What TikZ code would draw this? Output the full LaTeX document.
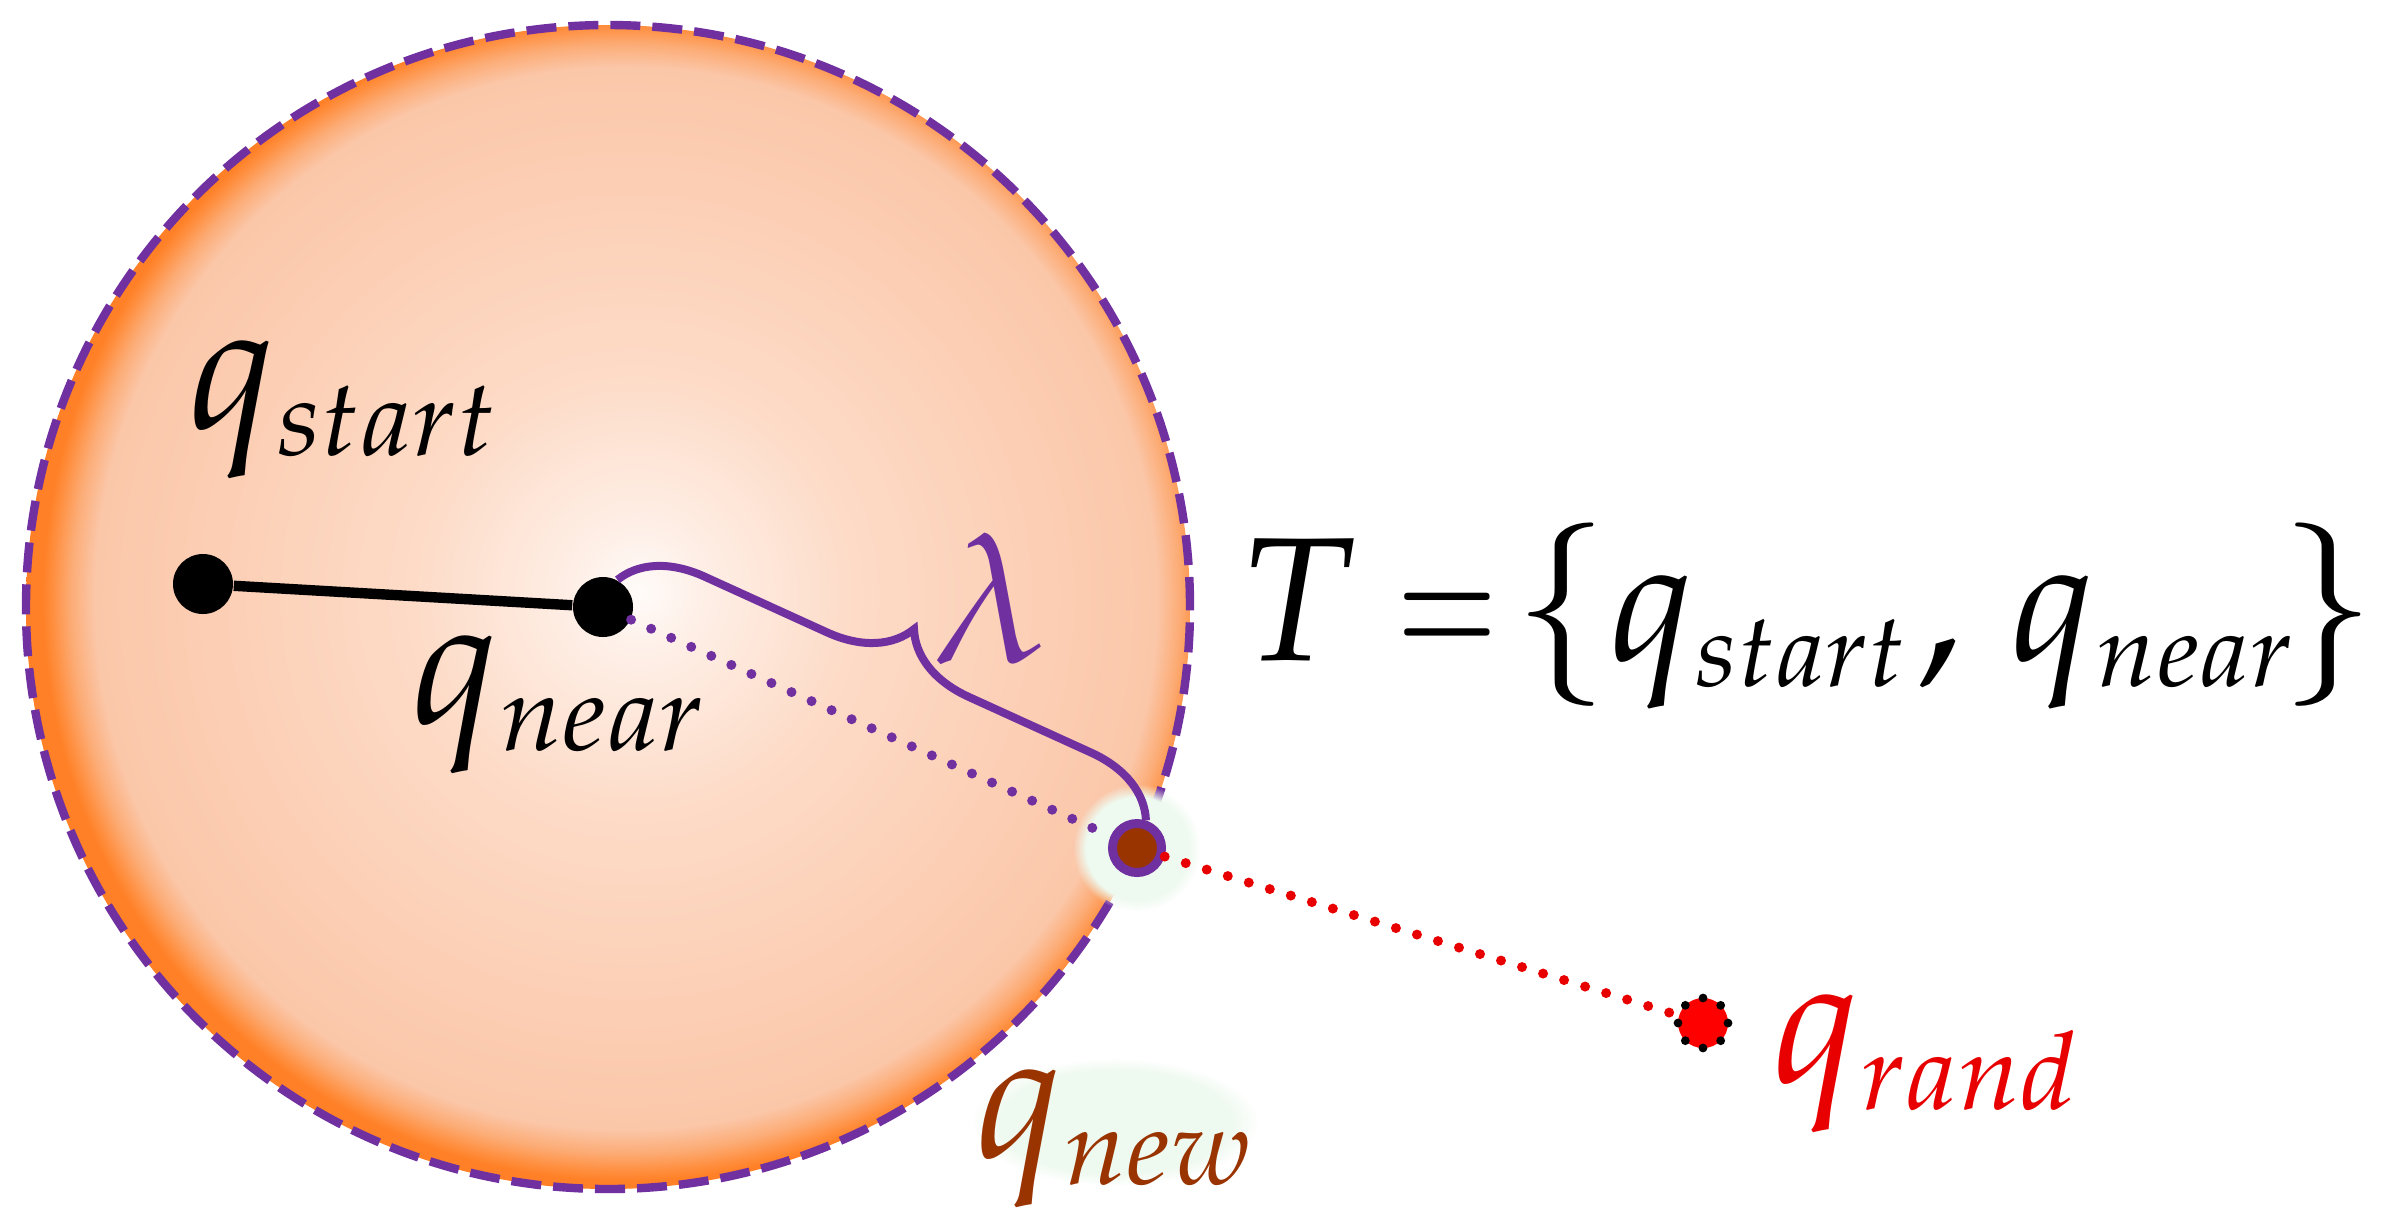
\documentclass[tikz,border=0pt]{standalone}
\usepackage{mathpazo}
\usetikzlibrary{decorations.pathreplacing,fadings}
\DeclareMathSizes{45.5}{45.5}{27}{20}
\DeclareMathSizes{44}{44}{26}{19.5}
\definecolor{ppl}{RGB}{112,48,160}
\definecolor{brn}{RGB}{153,51,0}
\definecolor{rrd}{RGB}{232,0,0}
\definecolor{glowgreen}{RGB}{238,249,239}
\definecolor{sA}{RGB}{255,251,249}
\definecolor{sB}{RGB}{254,238,229}
\definecolor{sC}{RGB}{253,219,199}
\definecolor{sD}{RGB}{252,207,181}
\definecolor{sE}{RGB}{251,199,169}
\definecolor{sF}{RGB}{252,172,118}
\definecolor{sG}{RGB}{255,142,62}
\definecolor{sH}{RGB}{255,128,38}
\pgfdeclareradialshading{orb}{\pgfpoint{1.4bp}{0.7bp}}{%
 color(0bp)=(sA); color(3bp)=(sB); color(9.5bp)=(sC); color(17.5bp)=(sD);
 color(22.8bp)=(sE); color(23.8bp)=(sF); color(24.6bp)=(sG); color(25bp)=(sH); color(50bp)=(sH)}
\begin{document}
\begin{tikzpicture}[x=0.25pt, y=-0.25pt,
  lbl/.style={inner sep=0pt, outer sep=0pt, font=\fontsize{45.5}{50}\selectfont, anchor=base west},
  bdot/.style={circle, fill=black, inner sep=0pt, minimum size=15pt},
  dotline/.style={line width=2.5pt, line cap=round, dash pattern=on 0pt off 5.5pt}]
\useasboundingbox (0,0) rectangle (2383,1223);

% disc of radius lambda
\node[circle, inner sep=0pt, minimum size=291pt, shading=orb, draw=ppl,
      line width=2.1pt, dash pattern=on 7.5pt off 3pt] (ball) at (608,607) {};

% soft glows
\fill[glowgreen, path fading=circle with fuzzy edge 20 percent] (1137,848) circle[radius=16pt];
\fill[glowgreen, path fading=circle with fuzzy edge 20 percent] (1115,1122) ellipse[x radius=36pt, y radius=16pt];

% points
\node[bdot] (qstart) at (203,584) {};
\node[bdot] (qnear) at (603,607) {};
\node[circle, inner sep=0pt, minimum size=12.25pt, fill=brn, draw=ppl, line width=2.25pt] (qnew) at (1137,848) {};
\node[circle, inner sep=0pt, minimum size=12.5pt, fill=red, draw=black, line width=2.2pt,
      line cap=round, dash pattern=on 0pt off 4.9pt] (qrand) at (1703,1023) {};

% connectors
\draw[line width=2.6pt] (qstart) -- (qnear);
\draw[ppl, dotline] (qnear) -- (qnew);
\draw[rrd, dotline] (qnew) -- (qrand);
\draw[ppl, line width=2pt, decorate, decoration={brace, amplitude=19.5pt, aspect=0.5}]
  (qnear.62) -- (qnew.72);

% labels
\node[lbl] (Lstart) at (188,428) {$q_{start}$};
\node[lbl] (Lnear) at (411,723) {$q_{near}$};
\node[lbl, text=brn] (Lnew) at (975,1157) {$q_{new}$};
\node[lbl, text=rrd] (Lrand) at (1772,1082) {$q_{rand}$};
\node[lbl, anchor=base, text=ppl] (Llam) at (990,662) {$\lambda$};
\node[lbl, font=\fontsize{44}{48}\selectfont] (Lset) at (1238,660)
  {$T\mkern4mu\scalebox{0.7}[1]{$=$}\mkern1.5mu\{q_{start}\mkern1mu,\mkern2mu q_{near}\mkern-1.5mu\}$};
\end{tikzpicture}
\end{document}
